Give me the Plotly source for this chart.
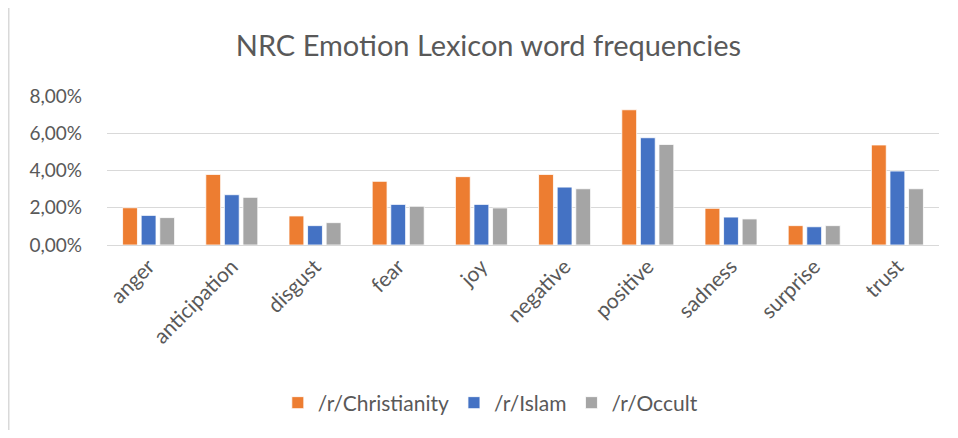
import plotly.graph_objects as go

categories = ["anger", "anticipation", "disgust", "fear", "joy",
              "negative", "positive", "sadness", "surprise", "trust"]
christianity = [2.00, 3.79, 1.56, 3.42, 3.67, 3.79, 7.26, 1.97, 1.04, 5.37]
islam = [1.59, 2.70, 1.04, 2.18, 2.18, 3.11, 5.76, 1.50, 0.98, 3.97]
occult = [1.47, 2.56, 1.20, 2.08, 1.99, 3.02, 5.40, 1.40, 1.04, 3.02]
series_names = ["/r/Christianity", "/r/Islam", "/r/Occult"]
colors = ["#ED7D31", "#4472C4", "#A5A5A5"]
y_ticks = [0, 2, 4, 6, 8]  # percent

FONT = "Lato, 'Open Sans', sans-serif"
TXT = "#595959"

W, H = 942, 422
L, R, T, B = 99, 11, 88, 185
PW, PH = W - L - R, H - T - B

fig = go.Figure()
for name, vals, col in zip(series_names, [christianity, islam, occult], colors):
    fig.add_trace(go.Bar(
        x=categories, y=[v / 100 for v in vals], name=name,
        marker=dict(color=col, line=dict(color="white", width=0.8)),
    ))

fig.update_layout(
    width=W, height=H,
    paper_bgcolor="white", plot_bgcolor="white",
    margin=dict(l=L, r=R, t=T, b=B, autoexpand=False),
    separators=",.",
    barmode="group", bargap=0.33, bargroupgap=0.2,
    title=dict(text="NRC Emotion Lexicon word frequencies",
               x=0.51, xanchor="center", y=0.91, yanchor="middle",
               font=dict(family=FONT, size=29, color=TXT)),
    font=dict(family=FONT, color=TXT),
    legend=dict(orientation="h", x=0.512, xanchor="center", xref="container",
                y=0.064, yref="container", yanchor="middle",
                font=dict(family=FONT, size=21, color=TXT),
                itemwidth=30, traceorder="normal"),
    showlegend=True,
)
fig.update_xaxes(
    tickangle=-45, tickfont=dict(family=FONT, size=21, color=TXT),
    showline=True, linecolor="#D9D9D9", linewidth=1, ticks="",
    showgrid=False, automargin=False,
)
fig.update_yaxes(
    range=[0, 0.08], tickvals=[v / 100 for v in y_ticks], tickformat=".2%",
    tickfont=dict(family=FONT, size=19, color=TXT),
    showgrid=True, gridcolor="#D9D9D9", gridwidth=1.2,
    zeroline=False, ticks="", ticklabelstandoff=24, automargin=False,
)
# chart area border (left edge, as in the reference)
fig.add_shape(type="line", xref="paper", yref="paper",
              x0=(-L + 0.75) / PW, x1=(-L + 0.75) / PW,
              y0=1 + T / PH, y1=-B / PH,
              line=dict(color="#D9D9D9", width=1.5))

fig.write_html("out.html", config={"displayModeBar": False})
